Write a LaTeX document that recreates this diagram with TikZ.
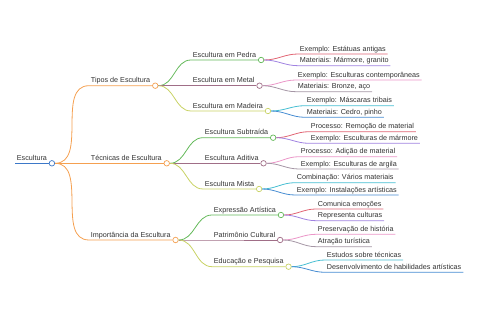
\documentclass[tikz,border=0pt]{standalone}
\usepackage{fontspec}
\setmainfont{Liberation Sans}
\definecolor{inkgray}{RGB}{50,50,50}
\definecolor{rootblue}{RGB}{60,120,200}
\definecolor{armorange}{RGB}{245,160,80}
\definecolor{leafgreen}{RGB}{100,185,90}
\definecolor{leafmauve}{RGB}{160,110,135}
\definecolor{leafyellow}{RGB}{200,210,100}
\definecolor{tipred}{RGB}{225,100,115}
\definecolor{tippurple}{RGB}{160,130,225}
\definecolor{tippink}{RGB}{235,150,200}
\definecolor{tipgray}{RGB}{165,150,165}
\definecolor{tipcyan}{RGB}{70,190,210}
\definecolor{tipblue}{RGB}{70,140,210}
\begin{document}
\begin{tikzpicture}[x=1pt,y=-1pt,line width=.8pt,
every node/.style={font=\fontsize{7.2}{8.6}\selectfont,text=inkgray},
topic/.style={anchor=south west,inner xsep=1.5pt,inner ysep=1pt,text height=5.3pt,text depth=1.5pt},
knob/.style={circle,draw=#1,fill=white,line width=.7pt,inner sep=0pt,minimum size=5.5pt,anchor=west},
link/.style={#1,out=0,in=180}]
\useasboundingbox (0,0) rectangle (480,320);
% main topics
\node[topic] (esc) at (15,163.3) {Escultura};
\node[topic] (tip) at (89,85.7) {Tipos de Escultura};
\node[topic] (tec) at (89,163.3) {Técnicas de Escultura};
\node[topic] (imp) at (89,240) {Importância da Escultura};
\node[knob=rootblue] (esc-o) at (esc.south east) {};
\node[knob=armorange] (tip-o) at (tip.south east) {};
\node[knob=armorange] (tec-o) at (tec.south east) {};
\node[knob=armorange] (imp-o) at (imp.south east) {};
% subtopics
\node[topic] (ped) at (191,60) {Escultura em Pedra};
\node[topic] (met) at (191,85.7) {Escultura em Metal};
\node[topic] (mad) at (191,111) {Escultura em Madeira};
\node[topic] (sub) at (203,137.7) {Escultura Subtraída};
\node[topic] (adi) at (203,163.3) {Escultura Aditiva};
\node[topic] (mis) at (203,189) {Escultura Mista};
\node[topic] (exp) at (212,215) {Expressão Artística};
\node[topic] (pat) at (212,240) {Patrimônio Cultural};
\node[topic] (edu) at (212,266.7) {Educação e Pesquisa};
\node[knob=leafgreen] (ped-o) at (ped.south east) {};
\node[knob=leafmauve] (met-o) at (met.south east) {};
\node[knob=leafyellow] (mad-o) at (mad.south east) {};
\node[knob=leafgreen] (sub-o) at (sub.south east) {};
\node[knob=leafmauve] (adi-o) at (adi.south east) {};
\node[knob=leafyellow] (mis-o) at (mis.south east) {};
\node[knob=leafgreen] (exp-o) at (exp.south east) {};
\node[knob=leafmauve] (pat-o) at (pat.south east) {};
\node[knob=leafyellow] (edu-o) at (edu.south east) {};
% details
\node[topic] (ped1) at (298,54) {Exemplo: Estátuas antigas};
\node[topic] (ped2) at (298,65.7) {Materiais: Mármore, granito};
\node[topic] (met1) at (296,80) {Exemplo: Esculturas contemporâneas};
\node[topic] (met2) at (296,91.7) {Materiais: Bronze, aço};
\node[topic] (mad1) at (305,105.7) {Exemplo: Máscaras tribais};
\node[topic] (mad2) at (305,117.3) {Materiais: Cedro, pinho};
\node[topic] (sub1) at (309,131.7) {Processo: Remoção de material};
\node[topic] (sub2) at (309,143.3) {Exemplo: Esculturas de mármore};
\node[topic] (adi1) at (299,156.7) {Processo: Adição de material};
\node[topic] (adi2) at (299,169) {Exemplo: Esculturas de argila};
\node[topic] (mis1) at (295,182.7) {Combinação: Vários materiais};
\node[topic] (mis2) at (295,195) {Exemplo: Instalações artísticas};
\node[topic] (exp1) at (316,209) {Comunica emoções};
\node[topic] (exp2) at (316,220.7) {Representa culturas};
\node[topic] (pat1) at (316,234.3) {Preservação de história};
\node[topic] (pat2) at (316,246.7) {Atração turística};
\node[topic] (edu1) at (325,260) {Estudos sobre técnicas};
\node[topic] (edu2) at (325,272.3) {Desenvolvimento de habilidades artísticas};
% branches
\draw[rootblue] (esc.south west) -- (esc.south east);
\draw[link=armorange] (esc-o.east) to (tip.south west) -- (tip.south east);
\draw[link=armorange] (esc-o.east) to (tec.south west) -- (tec.south east);
\draw[link=armorange] (esc-o.east) to (imp.south west) -- (imp.south east);
\draw[link=leafgreen] (tip-o.east) to (ped.south west) -- (ped.south east);
\draw[link=leafmauve] (tip-o.east) to (met.south west) -- (met.south east);
\draw[link=leafyellow] (tip-o.east) to (mad.south west) -- (mad.south east);
\draw[link=leafgreen] (tec-o.east) to (sub.south west) -- (sub.south east);
\draw[link=leafmauve] (tec-o.east) to (adi.south west) -- (adi.south east);
\draw[link=leafyellow] (tec-o.east) to (mis.south west) -- (mis.south east);
\draw[link=leafgreen] (imp-o.east) to (exp.south west) -- (exp.south east);
\draw[link=leafmauve] (imp-o.east) to (pat.south west) -- (pat.south east);
\draw[link=leafyellow] (imp-o.east) to (edu.south west) -- (edu.south east);
\draw[link=tipred] (ped-o.east) to (ped1.south west) -- (ped1.south east);
\draw[link=tippurple] (ped-o.east) to (ped2.south west) -- (ped2.south east);
\draw[link=tippink] (met-o.east) to (met1.south west) -- (met1.south east);
\draw[link=tipgray] (met-o.east) to (met2.south west) -- (met2.south east);
\draw[link=tipcyan] (mad-o.east) to (mad1.south west) -- (mad1.south east);
\draw[link=tipblue] (mad-o.east) to (mad2.south west) -- (mad2.south east);
\draw[link=tipred] (sub-o.east) to (sub1.south west) -- (sub1.south east);
\draw[link=tippurple] (sub-o.east) to (sub2.south west) -- (sub2.south east);
\draw[link=tippink] (adi-o.east) to (adi1.south west) -- (adi1.south east);
\draw[link=tipgray] (adi-o.east) to (adi2.south west) -- (adi2.south east);
\draw[link=tipcyan] (mis-o.east) to (mis1.south west) -- (mis1.south east);
\draw[link=tipblue] (mis-o.east) to (mis2.south west) -- (mis2.south east);
\draw[link=tipred] (exp-o.east) to (exp1.south west) -- (exp1.south east);
\draw[link=tippurple] (exp-o.east) to (exp2.south west) -- (exp2.south east);
\draw[link=tippink] (pat-o.east) to (pat1.south west) -- (pat1.south east);
\draw[link=tipgray] (pat-o.east) to (pat2.south west) -- (pat2.south east);
\draw[link=tipcyan] (edu-o.east) to (edu1.south west) -- (edu1.south east);
\draw[link=tipblue] (edu-o.east) to (edu2.south west) -- (edu2.south east);
\end{tikzpicture}
\end{document}
